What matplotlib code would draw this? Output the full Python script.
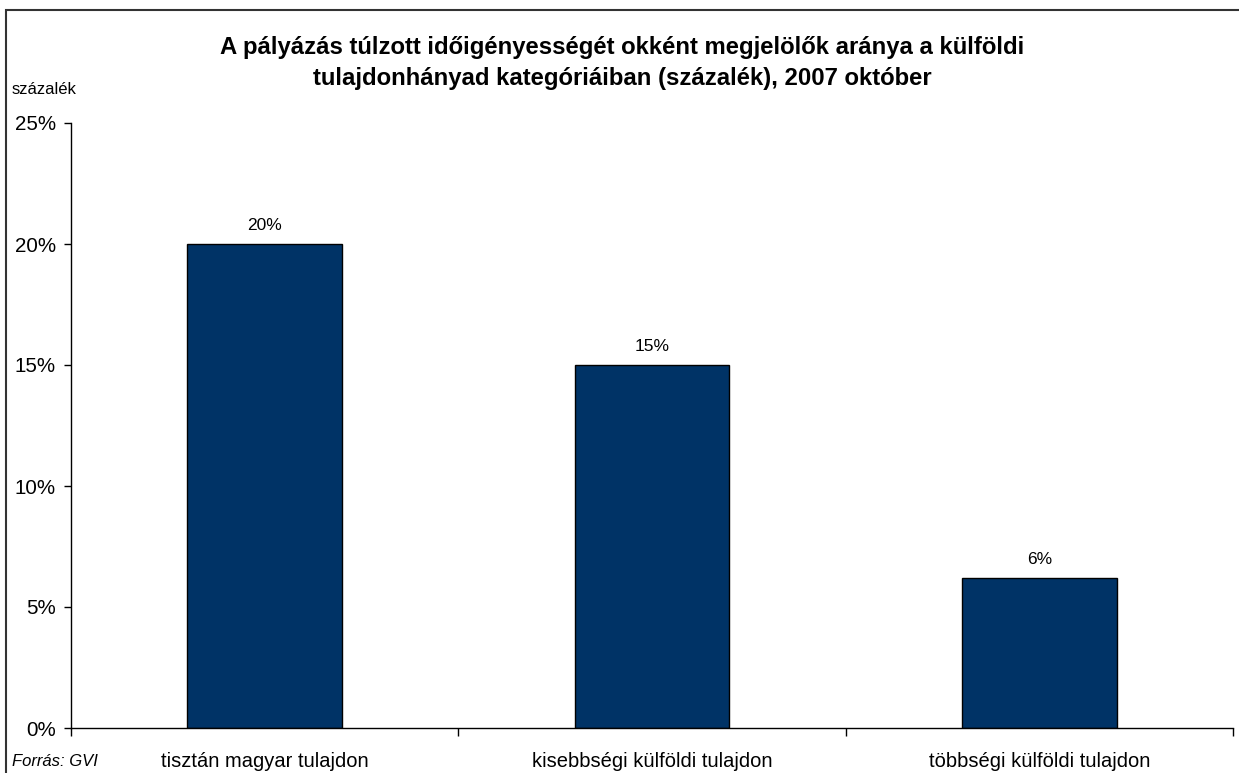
import matplotlib
matplotlib.use("Agg")
import matplotlib.pyplot as plt
from matplotlib.patches import Rectangle
from matplotlib.ticker import FuncFormatter

plt.rcParams['font.family'] = ['Liberation Sans', 'DejaVu Sans']

categories = ['tisztán magyar tulajdon', 'kisebbségi külföldi tulajdon', 'többségi külföldi tulajdon']
values = [20.0, 15.0, 6.2]
value_labels = ['20%', '15%', '6%']
yticks = [0, 5, 10, 15, 20, 25]

fig = plt.figure(figsize=(12.39, 7.73), dpi=100)
ax = fig.add_axes([71 / 1239, 1 - 728 / 773, 1162 / 1239, (728 - 123) / 773])

x = list(range(len(categories)))
ax.bar(x, values, width=0.4, color='#003366', edgecolor='black', linewidth=1)
for xi, v, lab in zip(x, values, value_labels):
    ax.text(xi, v + 0.45, lab, ha='center', va='bottom', fontsize=12.5)

ax.set_xlim(-0.5, 2.5)
ax.set_ylim(0, 25)
ax.set_yticks(yticks)
ax.yaxis.set_major_formatter(FuncFormatter(lambda v, p: f'{v:.0f}%'))
ax.tick_params(axis='y', labelsize=14.8, length=5, width=1, direction='out', pad=6)

ax.set_xticks([-0.5, 0.5, 1.5, 2.5])
ax.set_xticklabels([])
ax.set_xticks(x, minor=True)
ax.set_xticklabels(categories, minor=True)
ax.tick_params(axis='x', which='major', length=6, width=1, direction='out')
ax.tick_params(axis='x', which='minor', length=0, labelsize=14.5, pad=17)

for s in ['top', 'right']:
    ax.spines[s].set_visible(False)
ax.spines['left'].set_linewidth(1)
ax.spines['bottom'].set_linewidth(1)

fig.text(622 / 1239, 1 - 63 / 773,
         'A pályázás túlzott időigényességét okként megjelölők aránya a külföldi\n'
         'tulajdonhányad kategóriáiban (százalék), 2007 október',
         ha='center', va='center', fontsize=17.2, fontweight='bold', linespacing=1.4)
fig.text(12 / 1239, 1 - 90 / 773, 'százalék', ha='left', va='center', fontsize=12)
fig.text(12 / 1239, 1 - 762 / 773, 'Forrás: GVI', ha='left', va='center', fontsize=12, style='italic')

fig.patches.append(Rectangle((6 / 1239, -0.05), 1.1, 1 - 10.5 / 773 + 0.05,
                             transform=fig.transFigure, fill=False,
                             edgecolor='#333333', linewidth=1.5))

fig.savefig('out.png', dpi=100)
